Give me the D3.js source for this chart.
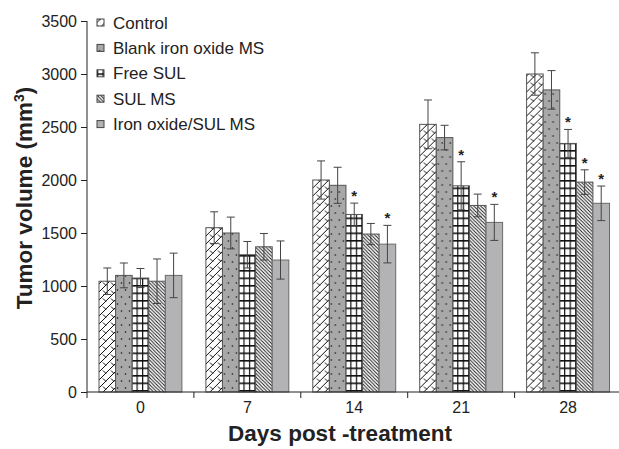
<!DOCTYPE html>
<html>
<head>
<meta charset="utf-8">
<script src="https://cdn.jsdelivr.net/npm/d3@7"></script>
<style>
  html, body { margin: 0; padding: 0; background: #fff; }
  svg { display: block; font-family: "Liberation Sans", Arial, sans-serif; }
</style>
</head>
<body>
<svg id="chart" width="619" height="449"></svg>
<script>
const days = ["0", "7", "14", "21", "28"];
const seriesNames = ["Control", "Blank iron oxide MS", "Free SUL", "SUL MS", "Iron oxide/SUL MS"];
const control    = [1045, 1550, 2000, 2525, 3000];
const blankIron  = [1100, 1500, 1950, 2400, 2850];
const freeSUL    = [1075, 1295, 1675, 1945, 2345];
const sulMS      = [1045, 1370, 1490, 1760, 1980];
const ironSUL    = [1100, 1245, 1395, 1600, 1780];
const controlErr   = [125, 150, 180, 230, 200];
const blankIronErr = [117, 150, 170, 116, 182];
const freeSULErr   = [90, 125, 107, 227, 132];
const sulMSErr     = [210, 125, 100, 107, 116];
const ironSULErr   = [210, 180, 177, 170, 163];
const controlSig   = [false, false, false, false, false];
const blankIronSig = [false, false, false, false, false];
const freeSULSig   = [false, false, true, true, true];
const sulMSSig     = [false, false, false, false, true];
const ironSULSig   = [false, false, true, true, true];
const yTicks = [0, 500, 1000, 1500, 2000, 2500, 3000, 3500];

const series = [
  {name: seriesNames[0], values: control,   err: controlErr,   sig: controlSig,   fill: "url(#pCtrl)",  stroke: "#555"},
  {name: seriesNames[1], values: blankIron, err: blankIronErr, sig: blankIronSig, fill: "url(#pBlank)", stroke: "#555"},
  {name: seriesNames[2], values: freeSUL,   err: freeSULErr,   sig: freeSULSig,   fill: "url(#pFree)",  stroke: "#555"},
  {name: seriesNames[3], values: sulMS,     err: sulMSErr,     sig: sulMSSig,     fill: "url(#pSul)",   stroke: "#555"},
  {name: seriesNames[4], values: ironSUL,   err: ironSULErr,   sig: ironSULSig,   fill: "#b3b3b5",      stroke: "#6a6a6a"}
];

const svg = d3.select("#chart");
const defs = svg.append("defs");

// Control: zigzag chevrons
let p = defs.append("pattern").attr("id", "pCtrl").attr("patternUnits", "userSpaceOnUse")
  .attr("width", 8).attr("height", 8);
p.append("rect").attr("width", 8).attr("height", 8).attr("fill", "#fff");
p.append("path").attr("d", "M0,8 L8,0 M0,2.5 L3,5.5 M8,2.5 L11,5.5 M-3,5.5 L0,8.5")
  .attr("stroke", "#111").attr("stroke-width", 1).attr("fill", "none");

// Blank: gray with sparse dots
p = defs.append("pattern").attr("id", "pBlank").attr("patternUnits", "userSpaceOnUse")
  .attr("width", 8).attr("height", 14);
p.append("rect").attr("width", 8).attr("height", 14).attr("fill", "#a8a8a8");
p.append("circle").attr("cx", 2.5).attr("cy", 3).attr("r", 0.8).attr("fill", "#111");
p.append("circle").attr("cx", 6.5).attr("cy", 10).attr("r", 0.8).attr("fill", "#111");

// Free SUL: grid
p = defs.append("pattern").attr("id", "pFree").attr("patternUnits", "userSpaceOnUse")
  .attr("width", 5.5).attr("height", 7.5);
p.append("rect").attr("width", 5.5).attr("height", 7.5).attr("fill", "#fff");
p.append("line").attr("x1", 0.6).attr("x2", 0.6).attr("y1", 0).attr("y2", 7.5).attr("stroke", "#111").attr("stroke-width", 1.2);
p.append("line").attr("x1", 0).attr("x2", 5.5).attr("y1", 0.8).attr("y2", 0.8).attr("stroke", "#111").attr("stroke-width", 1.6);

// SUL MS: dense back-diagonal lines
p = defs.append("pattern").attr("id", "pSul").attr("patternUnits", "userSpaceOnUse")
  .attr("width", 3.5).attr("height", 3.5);
p.append("rect").attr("width", 3.5).attr("height", 3.5).attr("fill", "#fff");
p.append("path").attr("d", "M0,0 L3.5,3.5 M-1,2.5 L1,4.5 M2.5,-1 L4.5,1").attr("stroke", "#111").attr("stroke-width", 0.9);

const x0 = 87, plotRight = 621.5, yBottom = 392, yTop = 21;

const x = d3.scaleBand().domain(days).range([x0, plotRight]).paddingInner(0).paddingOuter(0);
const xInner = d3.scaleBand().domain(seriesNames).range([12, x.bandwidth() - 12]).padding(0);
const y = d3.scaleLinear().domain([0, 3500]).range([yBottom, yTop]);

// Bars
const groups = svg.append("g").selectAll("g").data(days).join("g")
  .attr("transform", d => `translate(${x(d)},0)`);

series.forEach((s) => {
  groups.append("rect")
    .attr("x", xInner(s.name))
    .attr("width", xInner.bandwidth())
    .attr("y", (d, i) => y(s.values[i]))
    .attr("height", (d, i) => yBottom - y(s.values[i]))
    .attr("fill", s.fill)
    .attr("stroke", s.stroke)
    .attr("stroke-width", 1);
});

// Error bars
series.forEach((s) => {
  const cx = xInner(s.name) + xInner.bandwidth() / 2;
  groups.each(function(d, i) {
    const g = d3.select(this);
    const top = y(s.values[i] + s.err[i]);
    const bot = y(s.values[i] - s.err[i]);
    g.append("line").attr("x1", cx).attr("x2", cx).attr("y1", top).attr("y2", bot)
      .attr("stroke", "#444").attr("stroke-width", 1);
    g.append("line").attr("x1", cx - 4).attr("x2", cx + 4).attr("y1", top).attr("y2", top)
      .attr("stroke", "#444").attr("stroke-width", 1);
    g.append("line").attr("x1", cx - 4).attr("x2", cx + 4).attr("y1", bot).attr("y2", bot)
      .attr("stroke", "#444").attr("stroke-width", 1);
    if (s.sig[i]) {
      g.append("text").attr("x", cx).attr("y", top - 2)
        .attr("text-anchor", "middle").attr("font-size", 15).attr("font-weight", "bold")
        .attr("fill", "#222").text("*");
    }
  });
});

// Y axis
const yAxis = svg.append("g").attr("transform", `translate(${x0},0)`)
  .call(d3.axisLeft(y).tickValues(yTicks).tickSize(6).tickPadding(4).tickFormat(d3.format("d")));
yAxis.select(".domain").attr("stroke", "#222").attr("d", `M0,${yTop}V${yBottom}`);
yAxis.selectAll(".tick line").attr("stroke", "#222");
yAxis.selectAll(".tick text").attr("font-size", 16).attr("fill", "#222")
  .attr("font-family", "Liberation Sans, Arial, sans-serif");

// X axis
const xAxisG = svg.append("g");
xAxisG.append("line").attr("x1", x0).attr("x2", plotRight).attr("y1", yBottom).attr("y2", yBottom)
  .attr("stroke", "#222");
xAxisG.selectAll("line.tk").data(days).join("line").attr("class", "tk")
  .attr("x1", d => x(d)).attr("x2", d => x(d)).attr("y1", yBottom).attr("y2", yBottom + 6)
  .attr("stroke", "#222");
xAxisG.selectAll("text").data(days).join("text")
  .attr("x", d => x(d) + x.bandwidth() / 2).attr("y", 413)
  .attr("text-anchor", "middle").attr("font-size", 16).attr("fill", "#222").text(d => d);

// Axis titles
svg.append("text").attr("x", 340).attr("y", 441).attr("text-anchor", "middle")
  .attr("font-size", 22.5).attr("font-weight", "bold").attr("fill", "#222").text("Days post -treatment");
const yt = svg.append("text").attr("transform", "translate(32,198) rotate(-90)")
  .attr("text-anchor", "middle").attr("font-size", 22.5).attr("font-weight", "bold").attr("fill", "#222");
yt.append("tspan").text("Tumor volume (mm");
yt.append("tspan").attr("font-size", 14).attr("dy", -8).text("3");
yt.append("tspan").attr("dy", 8).text(")");

// Legend
const legend = svg.append("g").selectAll("g").data(series).join("g")
  .attr("transform", (d, i) => `translate(97,${22.5 + i * 25.4})`);
legend.append("rect").attr("x", 0).attr("y", -3.5).attr("width", 7).attr("height", 7)
  .attr("fill", d => d.fill).attr("stroke", "#444").attr("stroke-width", 1);
legend.append("text").attr("x", 16).attr("y", 6).attr("font-size", 17).attr("fill", "#222")
  .text(d => d.name);
</script>
</body>
</html>
